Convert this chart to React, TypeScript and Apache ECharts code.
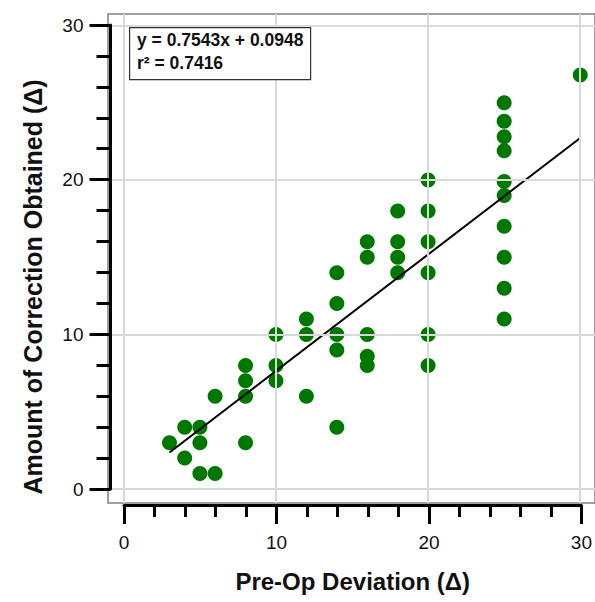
import React, { useEffect, useRef } from "react";
import * as echarts from "echarts";

const xTicks = [0, 10, 20, 30];
const yTicks = [0, 10, 20, 30];
const preOpDeviation = [3, 4, 4, 5, 5, 5, 6, 6, 8, 8, 8, 8, 10, 10, 10, 12, 12, 12, 14, 14, 14, 14, 14, 16, 16, 16, 16, 16, 18, 18, 18, 18, 20, 20, 20, 20, 20, 20, 25, 25, 25, 25, 25, 25, 25, 25, 25, 25, 30];
const correctionObtained = [3, 4, 2, 4, 3, 1, 1, 6, 8, 7, 6, 3, 8, 7, 10, 11, 10, 6, 14, 12, 10, 9, 4, 16, 15, 10, 8.6, 8, 18, 16, 15, 14, 20, 18, 16, 14, 10, 8, 25, 23.8, 22.8, 21.9, 19.9, 19, 17, 15, 13, 11, 26.8];
const slope = 0.7543;
const intercept = 0.0948;
const rSquared = 0.7416;
const xTitle = "Pre-Op Deviation (Δ)";
const yTitle = "Amount of Correction Obtained (Δ)";
const equationText = `y = ${slope}x + ${intercept}`;
const r2Text = `r² = ${rSquared}`;

const FONT = "'Liberation Sans', Arial, Helvetica, sans-serif";

export default function App() {
  const ref = useRef<HTMLDivElement>(null);
  useEffect(() => {
    if (!ref.current) return;
    const chart = echarts.init(ref.current, undefined, { renderer: "svg" });
    const points = preOpDeviation.map((x, i) => [x, correctionObtained[i]]);
    const xMin = Math.min(...preOpDeviation);
    const xMax = Math.max(...preOpDeviation);
    const fitLine = [
      [xMin, slope * xMin + intercept],
      [xMax, slope * xMax + intercept],
    ];
    const tickStyle = { color: "#000", width: 3 };
    chart.setOption({
      animation: false,
      backgroundColor: "#fff",
      grid: [
        { left: 108, top: 14, width: 492, height: 489, show: true, borderColor: "#808080", borderWidth: 1.5, backgroundColor: "transparent" },
        { left: 124, top: 25, width: 461, height: 464 },
      ],
      xAxis: [
        { gridIndex: 0, type: "value", min: -1.041, max: 30.97, show: false },
        {
          gridIndex: 1, type: "value", min: 0, max: 30, interval: 10, offset: 16, position: "bottom",
          axisLine: { show: true, onZero: false, lineStyle: tickStyle },
          axisTick: { show: true, inside: false, length: 19, lineStyle: tickStyle },
          minorTick: { show: true, splitNumber: 5, length: 12, lineStyle: tickStyle },
          splitLine: { show: false },
          axisLabel: { fontSize: 19, color: "#111", margin: 28, fontFamily: FONT },
          name: xTitle, nameLocation: "middle", nameGap: 64,
          nameTextStyle: { fontSize: 24, fontWeight: "bold", color: "#111", fontFamily: FONT },
        },
      ],
      yAxis: [
        { gridIndex: 0, type: "value", min: -0.906, max: 30.745, show: false },
        {
          gridIndex: 1, type: "value", min: 0, max: 30, interval: 10, offset: 13.5, position: "left", z: 5,
          axisLine: { show: true, onZero: false, lineStyle: tickStyle },
          axisTick: { show: true, inside: false, length: 21, lineStyle: tickStyle },
          minorTick: { show: true, splitNumber: 5, length: 14, lineStyle: tickStyle },
          splitLine: { show: false },
          axisLabel: { fontSize: 19, color: "#111", margin: 27, fontFamily: FONT },
        },
      ],
      series: [
        {
          name: "grid", type: "line", xAxisIndex: 0, yAxisIndex: 0, data: [], z: 1, silent: true,
          markLine: {
            silent: true, symbol: "none", animation: false,
            label: { show: false },
            lineStyle: { color: "#d9d9d9", width: 2, type: "solid" },
            data: [...xTicks.map((v) => ({ xAxis: v })), ...yTicks.map((v) => ({ yAxis: v }))],
          },
        },
        {
          name: "patients", type: "scatter", xAxisIndex: 0, yAxisIndex: 0, data: points,
          symbolSize: 15, itemStyle: { color: "#007800", opacity: 1 }, z: 2,
        },
        {
          name: "fit", type: "line", xAxisIndex: 0, yAxisIndex: 0, data: fitLine,
          showSymbol: false, symbol: "none", lineStyle: { color: "#000", width: 2 }, z: 3,
        },
      ],
      graphic: [
        { type: "rect", left: 129, top: 27, shape: { width: 181, height: 52 }, style: { fill: "#fff", stroke: "#333", lineWidth: 1.2 }, z: 10 },
        { type: "text", x: 137, y: 40, style: { text: equationText, fontSize: 17.5, fontWeight: "bold", fill: "#111", fontFamily: FONT, verticalAlign: "middle" }, z: 11 },
        { type: "text", x: 137, y: 63, style: { text: r2Text, fontSize: 17.5, fontWeight: "bold", fill: "#111", fontFamily: FONT, verticalAlign: "middle" }, z: 11 },
        { type: "text", x: 33, y: 287, rotation: Math.PI / 2, style: { text: yTitle, fontSize: 25, fontWeight: "bold", fill: "#111", fontFamily: FONT, align: "center", verticalAlign: "middle" }, z: 11 },
      ],
    });
    return () => chart.dispose();
  }, []);
  return <div ref={ref} style={{ position: "fixed", left: 0, top: 0, width: 595, height: 602 }} />;
}
